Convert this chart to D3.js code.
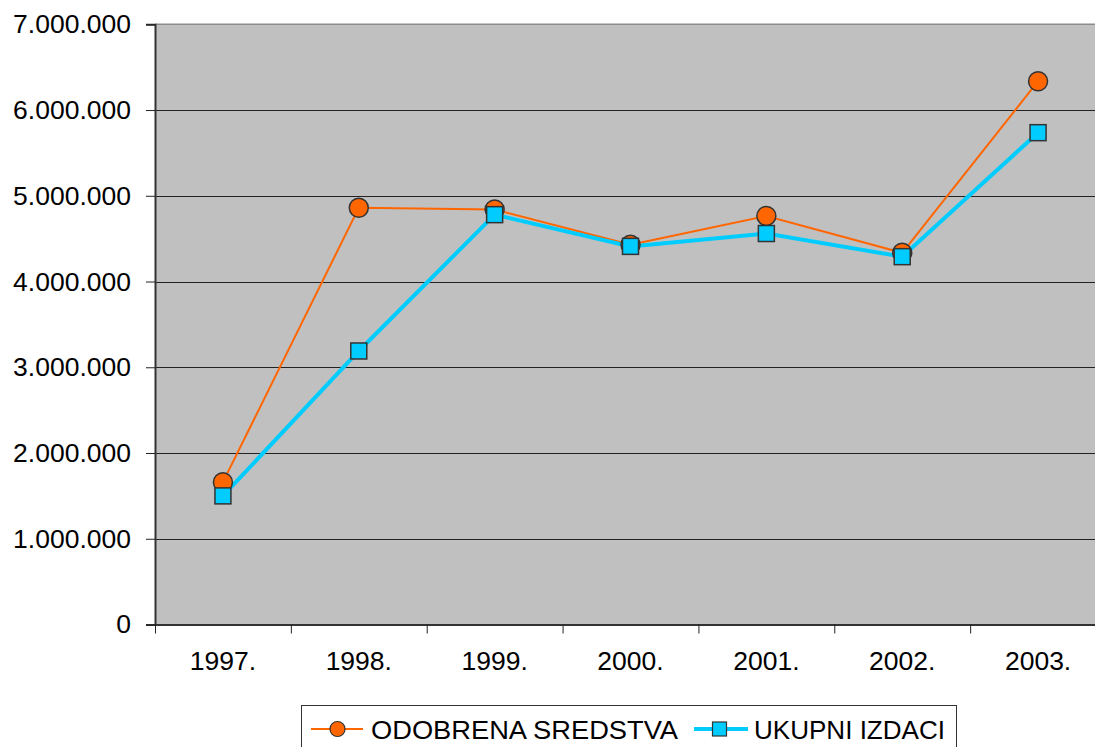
<!DOCTYPE html>
<html>
<head>
<meta charset="utf-8">
<script src="https://cdn.jsdelivr.net/npm/d3@7"></script>
<style>
  html, body { margin: 0; padding: 0; background: #fff; }
  svg { display: block; font-family: "Liberation Sans", Arial, sans-serif; }
</style>
</head>
<body>
<svg id="chart" width="1095" height="747"></svg>
<script>
const years = ["1997.", "1998.", "1999.", "2000.", "2001.", "2002.", "2003."];
const odobrenaSredstva = [1660000, 4860000, 4840000, 4430000, 4765000, 4335000, 6336000];
const ukupniIzdaci = [1500000, 3190000, 4780000, 4410000, 4560000, 4290000, 5736000];
const yTicks = [0, 1000000, 2000000, 3000000, 4000000, 5000000, 6000000, 7000000];
const seriesNames = ["ODOBRENA SREDSTVA", "UKUPNI IZDACI"];

(function () {
const svg = d3.select("#chart");
const pLeft = 155, pRight = 1106, pTop = 24.3, pBottom = 624.5;

const x = d3.scaleBand().domain(years).range([pLeft, pRight]).padding(0);
const y = d3.scaleLinear().domain([0, 7000000]).range([pBottom, pTop]);
const loc = d3.formatLocale({decimal: ",", thousands: ".", grouping: [3], currency: ["", ""]});
const fmt = loc.format(",");

svg.append("rect").attr("x", pLeft).attr("y", pTop).attr("width", pRight - pLeft).attr("height", pBottom - pTop)
  .attr("fill", "#c0c0c0");
svg.append("line").attr("x1", pLeft).attr("x2", pRight).attr("y1", pTop).attr("y2", pTop)
  .attr("stroke", "#8c8c8c").attr("stroke-width", 1.5);

svg.append("g").selectAll("line").data(yTicks.filter(d => d > 0 && d < 7000000)).join("line")
  .attr("x1", pLeft).attr("x2", pRight)
  .attr("y1", d => Math.round(y(d)) + 0.5).attr("y2", d => Math.round(y(d)) + 0.5)
  .attr("stroke", "#222").attr("stroke-width", 1);

const yAxis = svg.append("g").attr("transform", `translate(${pLeft},0)`)
  .call(d3.axisLeft(y).tickValues(yTicks).tickFormat(fmt).tickSize(9).tickPadding(15));
yAxis.select(".domain").attr("stroke", "#333").attr("stroke-width", 2);
yAxis.selectAll(".tick line").attr("stroke", "#222");
yAxis.selectAll("text").attr("font-size", 26.5).attr("fill", "#000")
  .attr("font-family", "Liberation Sans, Arial, sans-serif");

const xAxis = svg.append("g").attr("transform", `translate(0,${pBottom})`)
  .call(d3.axisBottom(x).tickSize(0).tickPadding(27));
xAxis.select(".domain").attr("stroke", "#333").attr("stroke-width", 2);
xAxis.selectAll("text").attr("font-size", 26.5).attr("fill", "#000")
  .attr("font-family", "Liberation Sans, Arial, sans-serif");
svg.append("g").selectAll("line").data(years).join("line")
  .attr("x1", d => x(d) + 0.5).attr("x2", d => x(d) + 0.5)
  .attr("y1", pBottom).attr("y2", pBottom + 9)
  .attr("stroke", "#222").attr("stroke-width", 1);

const cx = d => x(d) + x.bandwidth() / 2;
const line = d3.line().x((d, i) => cx(years[i])).y(d => y(d));

svg.append("path").datum(odobrenaSredstva).attr("d", line)
  .attr("fill", "none").attr("stroke", "#ff6600").attr("stroke-width", 2);
svg.append("path").datum(ukupniIzdaci).attr("d", line)
  .attr("fill", "none").attr("stroke", "#00ccff").attr("stroke-width", 4);

svg.append("g").selectAll("circle").data(odobrenaSredstva).join("circle")
  .attr("cx", (d, i) => cx(years[i])).attr("cy", d => y(d)).attr("r", 9.5)
  .attr("fill", "#ff6600").attr("stroke", "#333").attr("stroke-width", 1.5);
svg.append("g").selectAll("rect").data(ukupniIzdaci).join("rect")
  .attr("x", (d, i) => cx(years[i]) - 8).attr("y", d => y(d) - 8)
  .attr("width", 16).attr("height", 16)
  .attr("fill", "#00ccff").attr("stroke", "#333").attr("stroke-width", 1.5);

const lg = svg.append("g");
lg.append("rect").attr("x", 301.5).attr("y", 705.5).attr("width", 655).attr("height", 60)
  .attr("fill", "#fff").attr("stroke", "#333").attr("stroke-width", 1);
const ly = 729;
lg.append("line").attr("x1", 311).attr("x2", 363).attr("y1", ly).attr("y2", ly)
  .attr("stroke", "#ff6600").attr("stroke-width", 2);
lg.append("circle").attr("cx", 337.5).attr("cy", ly).attr("r", 7.5)
  .attr("fill", "#ff6600").attr("stroke", "#333").attr("stroke-width", 1.2);
lg.append("text").attr("x", 371).attr("y", ly + 9.5).attr("font-size", 26)
  .attr("textLength", 307).attr("lengthAdjust", "spacingAndGlyphs").text(seriesNames[0]);
lg.append("line").attr("x1", 694).attr("x2", 748).attr("y1", ly).attr("y2", ly)
  .attr("stroke", "#00ccff").attr("stroke-width", 4);
lg.append("rect").attr("x", 712.5).attr("y", ly - 7).attr("width", 14).attr("height", 14)
  .attr("fill", "#00ccff").attr("stroke", "#333").attr("stroke-width", 1.2);
lg.append("text").attr("x", 754).attr("y", ly + 9.5).attr("font-size", 26)
  .attr("textLength", 191).attr("lengthAdjust", "spacingAndGlyphs").text(seriesNames[1]);
})();
</script>
</body>
</html>
